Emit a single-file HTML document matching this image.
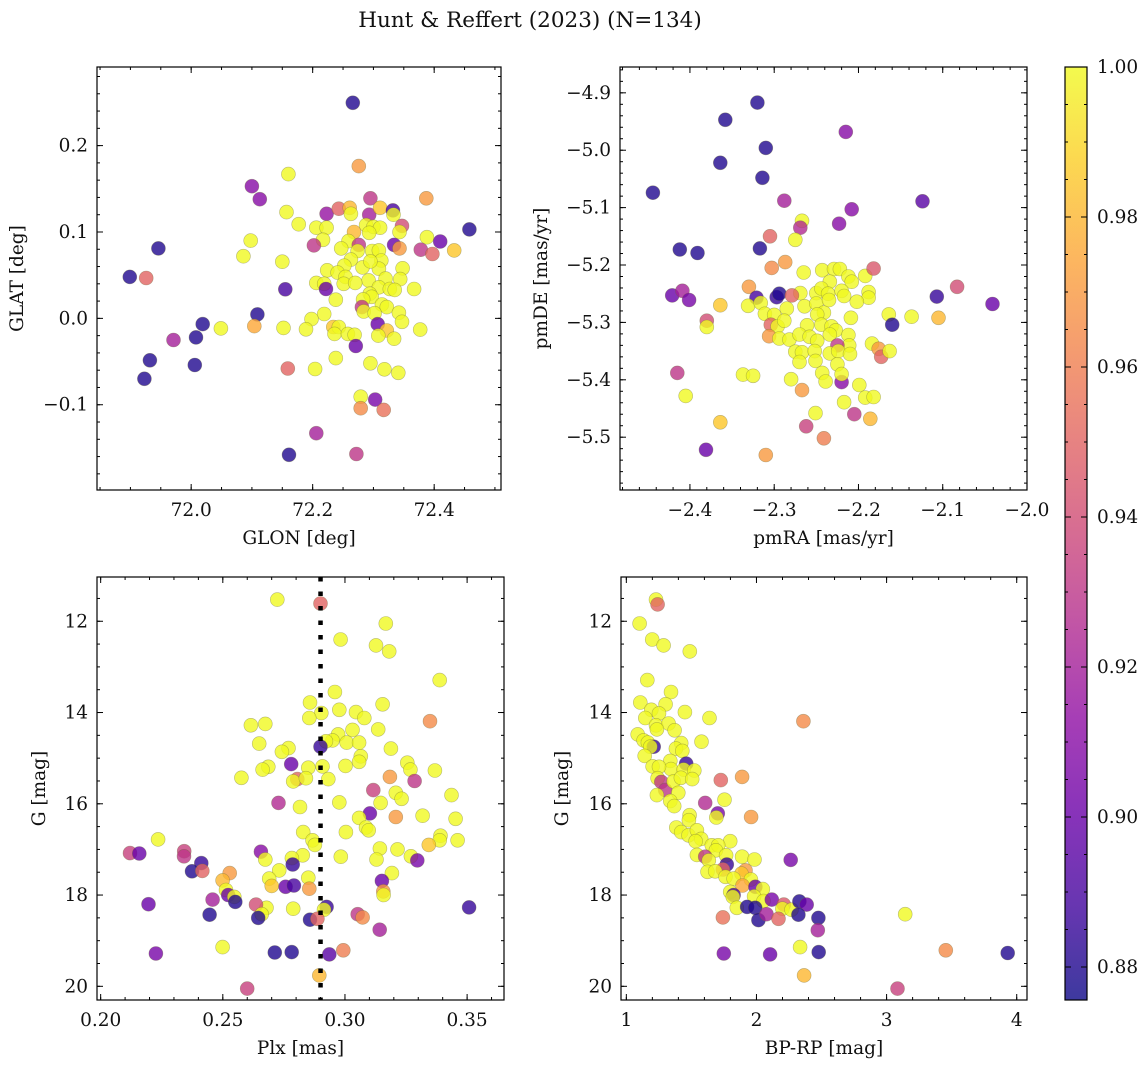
<!DOCTYPE html>
<html><head><meta charset="utf-8"><style>
body{margin:0;background:#fff;}
svg{display:block;font-family:"DejaVu Serif","Liberation Serif",serif;}
</style></head><body>
<svg id="fig" width="1148" height="1067" viewBox="0 0 1148 1067" xmlns="http://www.w3.org/2000/svg">
<rect width="1148" height="1067" fill="#fff"/>
<text x="530" y="27" font-size="21.5" text-anchor="middle" fill="#111">Hunt &amp; Reffert (2023) (N=134)</text>
</svg>
<script>
// ---- Panel 1: GLON / GLAT ----
const p1Glon=[72.266,72.276,72.160,72.100,72.113,72.295,72.387,72.157,72.223,72.243,72.261,72.263,72.293,72.311,72.332,72.333,72.177,72.206,72.223,72.347,72.458,72.288,72.300,72.311,72.268,72.293,72.343,72.388,72.410,72.098,72.217,72.202,72.259,72.276,72.334,72.343,71.946,72.378,72.397,72.433,72.247,72.274,72.298,72.309,72.086,72.150,72.263,72.282,72.313,72.252,72.224,72.241,72.309,72.348,72.295,72.254,72.292,72.320,72.344,71.899,71.926,72.206,72.219,72.222,72.251,72.270,72.155,72.309,72.327,72.335,72.367,72.294,72.297,72.238,72.283,72.314,72.322,72.281,72.284,72.302,72.342,72.219,72.109,72.198,72.347,72.019,72.307,72.049,72.104,72.152,72.189,72.234,72.243,72.236,72.258,72.269,72.322,72.308,72.377,72.334,72.271,72.008,71.971,71.932,72.006,71.923,72.238,72.159,72.204,72.295,72.318,72.341,72.279,72.303,72.279,72.317,72.206,72.161,72.272];
const p1Glat=[0.2496,0.1763,0.167,0.153,0.138,0.139,0.139,0.123,0.121,0.127,0.128,0.121,0.120,0.128,0.125,0.120,0.109,0.105,0.105,0.107,0.103,0.108,0.106,0.105,0.100,0.099,0.100,0.094,0.089,0.090,0.091,0.0845,0.0895,0.085,0.085,0.081,0.081,0.0795,0.0745,0.0787,0.081,0.078,0.078,0.0787,0.072,0.0656,0.068,0.059,0.067,0.061,0.0556,0.053,0.0575,0.058,0.066,0.048,0.044,0.046,0.0455,0.048,0.0467,0.041,0.040,0.034,0.040,0.041,0.0336,0.036,0.034,0.033,0.034,0.0285,0.025,0.0216,0.022,0.016,0.013,0.013,0.008,0.006,0.0066,0.005,0.0046,-0.0008,-0.004,-0.0066,-0.0066,-0.0116,-0.009,-0.011,-0.0127,-0.010,-0.010,-0.018,-0.018,-0.019,-0.014,-0.020,-0.013,-0.0235,-0.032,-0.022,-0.025,-0.0486,-0.054,-0.070,-0.046,-0.058,-0.0586,-0.052,-0.059,-0.063,-0.0907,-0.094,-0.104,-0.106,-0.133,-0.158,-0.157];
const p1Prob=[0.88,0.97,1,0.91,0.91,0.93,0.97,1,0.915,0.95,0.98,1,0.92,0.985,0.89,1,1,1,1,0.94,0.88,1,1,1,0.98,1,1,1,0.90,1,1,0.93,1,0.93,0.90,0.97,0.88,0.93,0.95,0.985,1,1,1,1,1,1,1,1,1,1,1,1,1,1,1,1,1,1,1,0.88,0.95,1,1,0.90,1,1,0.89,1,1,1,1,1,1,1,1,1,1,0.93,1,1,1,1,0.88,1,1,0.88,0.90,1,0.975,1,1,0.985,1,1,1,1,0.985,1,1,1,0.90,0.88,0.92,0.88,0.88,0.88,1,0.95,1,1,1,1,1,0.905,0.965,0.955,0.92,0.88,0.93];
// ---- Panel 2: pmRA / pmDE ----
const p2PmRA=[-2.320,-2.358,-2.215,-2.310,-2.364,-2.314,-2.444,-2.288,-2.124,-2.208,-2.267,-2.269,-2.223,-2.305,-2.275,-2.412,-2.391,-2.317,-2.287,-2.303,-2.265,-2.243,-2.229,-2.222,-2.212,-2.208,-2.192,-2.182,-2.234,-2.083,-2.330,-2.269,-2.250,-2.244,-2.236,-2.220,-2.217,-2.188,-2.188,-2.421,-2.409,-2.401,-2.321,-2.297,-2.294,-2.279,-2.107,-2.041,-2.364,-2.331,-2.316,-2.311,-2.300,-2.285,-2.264,-2.250,-2.241,-2.249,-2.235,-2.202,-2.209,-2.164,-2.137,-2.105,-2.380,-2.380,-2.304,-2.296,-2.288,-2.261,-2.244,-2.232,-2.227,-2.160,-2.306,-2.294,-2.282,-2.270,-2.258,-2.249,-2.234,-2.212,-2.211,-2.225,-2.184,-2.176,-2.173,-2.163,-2.275,-2.267,-2.252,-2.234,-2.224,-2.210,-2.270,-2.251,-2.225,-2.415,-2.337,-2.325,-2.243,-2.280,-2.239,-2.220,-2.220,-2.199,-2.267,-2.405,-2.192,-2.182,-2.217,-2.251,-2.205,-2.186,-2.364,-2.262,-2.241,-2.381,-2.310];
const p2PmDE=[-4.917,-4.947,-4.968,-4.996,-5.022,-5.048,-5.074,-5.088,-5.089,-5.103,-5.123,-5.135,-5.128,-5.150,-5.156,-5.173,-5.179,-5.171,-5.195,-5.205,-5.213,-5.209,-5.207,-5.207,-5.220,-5.229,-5.219,-5.206,-5.229,-5.238,-5.238,-5.249,-5.249,-5.241,-5.250,-5.245,-5.254,-5.247,-5.257,-5.253,-5.245,-5.261,-5.257,-5.256,-5.250,-5.253,-5.255,-5.268,-5.270,-5.271,-5.266,-5.285,-5.287,-5.276,-5.272,-5.267,-5.283,-5.286,-5.261,-5.264,-5.292,-5.286,-5.290,-5.292,-5.297,-5.308,-5.304,-5.307,-5.297,-5.305,-5.304,-5.307,-5.314,-5.304,-5.324,-5.328,-5.330,-5.321,-5.325,-5.332,-5.321,-5.322,-5.340,-5.340,-5.337,-5.346,-5.360,-5.350,-5.351,-5.352,-5.350,-5.354,-5.350,-5.355,-5.369,-5.367,-5.373,-5.388,-5.391,-5.393,-5.388,-5.399,-5.403,-5.404,-5.390,-5.409,-5.418,-5.428,-5.431,-5.430,-5.439,-5.458,-5.460,-5.468,-5.474,-5.481,-5.502,-5.522,-5.531];
const p2Prob=[0.88,0.88,0.91,0.88,0.88,0.88,0.88,0.92,0.895,0.91,1,0.925,0.91,0.95,1,0.88,0.88,0.88,0.97,0.965,1,1,1,1,1,1,1,0.945,1,0.94,0.97,1,1,1,1,1,1,1,1,0.90,0.92,0.905,0.89,0.885,0.88,0.95,0.885,0.90,0.985,1,1,1,1,1,1,1,1,1,1,1,1,1,1,0.98,0.94,1,0.95,1,1,1,1,1,1,0.88,0.97,1,1,1,1,1,1,1,1,0.93,1,0.97,0.95,1,1,1,1,1,1,1,1,1,1,0.93,1,1,1,1,1,0.91,1,1,0.97,1,1,1,1,1,0.93,0.98,0.985,0.935,0.96,0.90,0.97];
// ---- Panel 3: Plx / G ----
const p3Plx=[0.2723,0.2900,0.3167,0.2982,0.3127,0.3181,0.3388,0.2959,0.2857,0.3154,0.2903,0.2977,0.3045,0.3079,0.2854,0.3348,0.2615,0.2674,0.3136,0.3031,0.2972,0.2949,0.2922,0.3007,0.3058,0.2649,0.2900,0.2769,0.2742,0.3188,0.3065,0.3058,0.2780,0.3255,0.3268,0.3368,0.3002,0.2908,0.2850,0.2686,0.2663,0.2576,0.2805,0.2788,0.2840,0.2932,0.3184,0.3285,0.3116,0.3208,0.3232,0.2728,0.2977,0.3146,0.3436,0.2816,0.3102,0.3208,0.3318,0.3058,0.3453,0.3086,0.3097,0.2829,0.3004,0.2235,0.3391,0.3388,0.3461,0.2867,0.2877,0.3343,0.3143,0.3215,0.2120,0.2158,0.2342,0.2341,0.2656,0.2674,0.2827,0.2783,0.2983,0.3129,0.3270,0.3296,0.2412,0.2786,0.2374,0.2416,0.2731,0.2528,0.3192,0.2499,0.2690,0.2700,0.2850,0.2854,0.2757,0.2791,0.3151,0.3157,0.3158,0.2513,0.2522,0.2547,0.2551,0.2458,0.2196,0.2788,0.2679,0.2636,0.2659,0.2645,0.2446,0.2925,0.2914,0.3508,0.2857,0.2887,0.3052,0.3072,0.3142,0.2499,0.2226,0.2713,0.2782,0.2936,0.2993,0.2895,0.2600];
const p3G=[11.525,11.61,12.05,12.40,12.53,12.66,13.29,13.55,13.78,13.82,14.01,13.94,13.99,14.12,14.12,14.19,14.28,14.25,14.37,14.38,14.48,14.61,14.63,14.66,14.66,14.68,14.75,14.78,14.86,14.79,14.96,15.08,15.13,15.10,15.25,15.27,15.17,15.18,15.21,15.19,15.25,15.43,15.46,15.51,15.44,15.46,15.41,15.50,15.70,15.76,15.89,15.98,15.97,15.98,15.81,16.07,16.21,16.29,16.26,16.31,16.33,16.52,16.58,16.62,16.62,16.78,16.70,16.80,16.80,16.80,16.90,16.90,16.98,17.00,17.08,17.09,17.04,17.15,17.05,17.22,17.13,17.19,17.16,17.22,17.15,17.24,17.30,17.33,17.48,17.47,17.46,17.52,17.52,17.68,17.64,17.80,17.62,17.86,17.82,17.79,17.69,17.92,18.00,17.89,18.00,18.04,18.15,18.10,18.20,18.30,18.28,18.21,18.42,18.50,18.43,18.26,18.32,18.27,18.54,18.52,18.42,18.49,18.76,19.14,19.28,19.26,19.25,19.30,19.21,19.76,20.05];
const p3Prob=[1,0.95,1,1,1,1,1,1,1,1,1,1,1,1,1,0.965,1,1,1,1,1,1,1,1,1,1,0.885,1,1,1,1,1,0.90,1,1,1,1,1,1,1,1,1,0.95,1,1,1,0.97,0.93,0.935,1,1,0.925,1,1,1,1,0.90,0.97,1,1,1,1,1,1,1,1,1,1,1,1,1,0.985,1,1,0.935,0.90,0.935,0.93,0.91,1,1,1,1,1,1,0.905,0.885,0.885,0.88,0.95,1,0.97,1,0.98,1,0.985,1,0.97,0.90,0.89,0.90,0.97,1,1,0.90,1,0.88,0.92,0.90,1,1,0.94,1,0.88,0.88,0.885,1,0.885,0.88,0.95,0.93,0.965,0.92,1,0.905,0.88,0.88,0.895,0.96,0.98,0.935];
// ---- Panel 4: BP-RP / G ----
const p4Color=[1.228,1.240,1.102,1.199,1.286,1.488,1.161,1.343,1.107,1.302,1.192,1.251,1.450,1.639,2.361,1.146,1.228,1.325,1.371,1.235,1.087,1.133,1.166,1.210,1.184,1.141,1.422,1.381,1.430,1.578,1.460,1.338,1.343,1.202,1.251,1.440,1.522,1.240,1.269,1.299,1.235,1.363,1.419,1.506,1.399,1.338,1.368,1.726,1.890,1.754,1.606,1.703,1.691,1.959,1.486,1.481,1.384,1.422,1.478,1.542,1.575,1.532,1.798,1.657,1.706,1.688,1.542,1.606,1.634,1.767,1.890,1.985,2.263,1.772,1.742,1.624,1.683,1.916,1.885,1.762,1.824,1.957,1.893,1.992,2.049,1.798,1.824,1.818,1.982,2.054,2.118,1.849,1.928,1.990,2.210,2.199,2.269,2.330,2.386,2.322,2.015,2.077,2.169,2.476,1.742,2.471,3.143,2.335,1.749,2.105,2.478,3.455,3.931,2.366,3.084];
const p4G=[11.525,11.63,12.05,12.40,12.53,12.66,13.29,13.55,13.78,13.82,13.94,14.02,13.99,14.12,14.19,14.12,14.28,14.24,14.39,14.37,14.48,14.61,14.66,14.75,14.75,14.95,14.67,14.79,14.84,14.64,15.12,15.06,15.24,15.18,15.19,15.25,15.27,15.44,15.52,15.70,15.81,15.51,15.43,15.46,15.76,15.94,16.05,15.48,15.41,15.91,15.98,16.21,16.30,16.29,16.25,16.36,16.52,16.62,16.69,16.58,16.77,16.82,16.82,16.91,16.91,17.02,17.12,17.16,17.24,17.13,17.16,17.22,17.23,17.33,17.44,17.49,17.48,17.46,17.53,17.60,17.64,17.66,17.79,17.82,17.87,17.93,18.00,18.04,18.03,18.13,18.10,18.28,18.26,18.28,18.21,18.30,18.32,18.14,18.21,18.43,18.55,18.42,18.52,18.50,18.49,18.77,18.42,19.14,19.28,19.30,19.25,19.21,19.27,19.76,20.05];
const p4Prob=[1,0.95,1,1,1,1,1,1,1,1,1,1,1,1,0.965,1,1,1,1,1,1,1,1,0.885,1,1,1,1,1,1,0.885,1,1,1,1,1,1,1,0.93,0.93,1,1,1,1,1,1,1,0.95,0.97,1,0.925,0.905,1,0.97,1,1,1,1,1,1,1,1,1,1,1,1,1,0.93,1,1,1,1,0.905,0.885,0.95,1,1,0.97,0.985,1,1,1,0.975,0.90,1,1,0.89,1,1,1,0.905,1,0.88,0.88,0.945,1,1,0.88,0.90,0.88,0.88,0.92,0.95,0.88,0.955,0.92,1,1,0.905,0.90,0.88,0.965,0.88,0.98,0.935];
// ---- tick arrays ----
const p1XTicks=[72.0,72.2,72.4];
const p1YTicks=[-0.1,0.0,0.1,0.2];
const p2XTicks=[-2.4,-2.3,-2.2,-2.1,-2.0];
const p2YTicks=[-5.5,-5.4,-5.3,-5.2,-5.1,-5.0,-4.9];
const p3XTicks=[0.20,0.25,0.30,0.35];
const gTicks=[12,14,16,18,20];
const p4XTicks=[1,2,3,4];
const cbTicks=[0.88,0.90,0.92,0.94,0.96,0.98,1.00];
const plxLine=[0.29];
const vmin=0.8756, vmax=1.0;

const NS="http://www.w3.org/2000/svg";
const svg=document.getElementById('fig');
const FS=18.5;
function el(tag,attrs,parent){const e=document.createElementNS(NS,tag);for(const k in attrs)e.setAttribute(k,attrs[k]);(parent||svg).appendChild(e);return e;}
const stops=[[13,8,135],[65,4,157],[106,0,168],[143,13,164],[177,42,144],[204,71,120],[225,100,98],[242,132,75],[252,166,54],[252,206,37],[240,249,33]];
function plasma(t){t=Math.max(0,Math.min(1,t));const f=t*10,i=Math.min(9,Math.floor(f)),r=f-i;const a=stops[i],b=stops[i+1];return `rgb(${Math.round(a[0]+(b[0]-a[0])*r)},${Math.round(a[1]+(b[1]-a[1])*r)},${Math.round(a[2]+(b[2]-a[2])*r)})`;}
function fmtMinus(s){return s.replace('-','\u2212');}

function panel(cfg){
  const g=el('g',{});
  
  
  const sx=v=>cfg.L+(v-cfg.x0)/(cfg.x1-cfg.x0)*(cfg.R-cfg.L);
  const sy=cfg.invY?(v=>cfg.T+(v-cfg.y0)/(cfg.y1-cfg.y0)*(cfg.B-cfg.T)):(v=>cfg.B-(v-cfg.y0)/(cfg.y1-cfg.y0)*(cfg.B-cfg.T));
  const clipId='clip'+cfg.name;
  const cp=el('clipPath',{id:clipId},g);el('rect',{x:cfg.L,y:cfg.T,width:cfg.R-cfg.L,height:cfg.B-cfg.T},cp);
  const pts=el('g',{'clip-path':`url(#${clipId})`},g);
  
  
  for(let i=0;i<cfg.xs.length;i++){
    const c=el('circle',{cx:sx(cfg.xs[i]).toFixed(1),cy:sy(cfg.ys[i]).toFixed(1),r:7,fill:plasma((cfg.pr[i]-vmin)/(vmax-vmin)),'fill-opacity':0.8,stroke:'#6b6b3a','stroke-opacity':0.45,'stroke-width':0.6},pts);
    
    
  }
  if(cfg.vline){for(const v of cfg.vline){const l=el('line',{x1:sx(v),x2:sx(v),y1:cfg.T,y2:cfg.B,stroke:'#000','stroke-width':4.5,'stroke-dasharray':'4.5 10'},pts);
    
    }}
  const tk=el('g',{stroke:'#000','stroke-width':1},g);
  const lo=Math.min(cfg.x0,cfg.x1),hi=Math.max(cfg.x0,cfg.x1);
  for(let k=Math.ceil(lo/cfg.xm-1e-6);k*cfg.xm<=hi+1e-9;k++){const x=sx(k*cfg.xm);el('line',{x1:x,x2:x,y1:cfg.B,y2:cfg.B-3},tk);el('line',{x1:x,x2:x,y1:cfg.T,y2:cfg.T+3},tk);}
  const ylo=Math.min(cfg.y0,cfg.y1),yhi=Math.max(cfg.y0,cfg.y1);
  for(let k=Math.ceil(ylo/cfg.ym-1e-6);k*cfg.ym<=yhi+1e-9;k++){const y=sy(k*cfg.ym);el('line',{x1:cfg.L,x2:cfg.L+3,y1:y,y2:y},tk);el('line',{x1:cfg.R,x2:cfg.R-3,y1:y,y2:y},tk);}
  for(const v of cfg.xt){const x=sx(v);el('line',{x1:x,x2:x,y1:cfg.B,y2:cfg.B-6},tk);el('line',{x1:x,x2:x,y1:cfg.T,y2:cfg.T+6},tk);
    const t=el('text',{x:x,y:cfg.B+26,'font-size':FS,'text-anchor':'middle',fill:'#111'},g);t.textContent=fmtMinus(v.toFixed(cfg.xd));
    
    }
  for(const v of cfg.yt){const y=sy(v);el('line',{x1:cfg.L,x2:cfg.L+6,y1:y,y2:y},tk);el('line',{x1:cfg.R,x2:cfg.R-6,y1:y,y2:y},tk);
    const t=el('text',{x:cfg.L-9,y:y+6,'font-size':FS,'text-anchor':'end',fill:'#111'},g);t.textContent=fmtMinus(v.toFixed(cfg.yd));
    
    }
  const fr=el('rect',{x:cfg.L,y:cfg.T,width:cfg.R-cfg.L,height:cfg.B-cfg.T,fill:'none',stroke:'#000','stroke-width':1.2},g);
  
  
  const xl=el('text',{x:(cfg.L+cfg.R)/2,y:cfg.B+54,'font-size':FS,'text-anchor':'middle',fill:'#111'},g);xl.textContent=cfg.xlabel;
  
  
  const yx=cfg.ylx,yy=(cfg.T+cfg.B)/2;
  const yl=el('text',{x:yx,y:yy,'font-size':FS,'text-anchor':'middle',fill:'#111',transform:`rotate(-90 ${yx} ${yy})`},g);yl.textContent=cfg.ylabel;
  
  
}
panel({name:'panel-sky-position',L:97,R:501,T:67,B:490,x0:71.845,x1:72.51,y0:-0.1987,y1:0.291,xs:p1Glon,ys:p1Glat,pr:p1Prob,xt:p1XTicks,yt:p1YTicks,xd:1,yd:1,xm:0.05,ym:0.02,xlabel:'GLON [deg]',ylabel:'GLAT [deg]',ylx:23});
panel({name:'panel-proper-motion',L:620,R:1027,T:67,B:490,x0:-2.483,x1:-2.0,y0:-5.592,y1:-4.855,xs:p2PmRA,ys:p2PmDE,pr:p2Prob,xt:p2XTicks,yt:p2YTicks,xd:1,yd:1,xm:0.02,ym:0.02,xlabel:'pmRA [mas/yr]',ylabel:'pmDE [mas/yr]',ylx:547});
panel({name:'panel-parallax-magnitude',L:97,R:504,T:577,B:1000,x0:0.1985,x1:0.3651,y0:11.03,y1:20.30,invY:true,xs:p3Plx,ys:p3G,pr:p3Prob,xt:p3XTicks,yt:gTicks,xd:2,yd:0,xm:0.01,ym:0.5,xlabel:'Plx [mas]',ylabel:'G [mag]',ylx:45,vline:plxLine});
panel({name:'panel-color-magnitude',L:621,R:1027,T:577,B:1000,x0:0.959,x1:4.079,y0:11.03,y1:20.30,invY:true,xs:p4Color,ys:p4G,pr:p4Prob,xt:p4XTicks,yt:gTicks,xd:0,yd:0,xm:0.2,ym:0.5,xlabel:'BP-RP [mag]',ylabel:'G [mag]',ylx:568});

// colorbar
const cb=el('g',{});


const CL=1065,CR=1087,CT=67,CB=1000;
const defs=el('defs',{},svg);
const lg=el('linearGradient',{id:'plasmaGrad',x1:0,y1:1,x2:0,y2:0},defs);
for(let i=0;i<=20;i++){el('stop',{offset:(i/20),'stop-color':plasma(i/20)},lg);}
el('rect',{x:CL,y:CT,width:CR-CL,height:CB-CT,fill:'url(#plasmaGrad)','fill-opacity':0.8},cb);
const cy=v=>CB-(v-vmin)/(vmax-vmin)*(CB-CT);
for(let v=0.88;v<=1.0001;v+=0.005){el('line',{x1:CR,x2:CR-3,y1:cy(v),y2:cy(v),stroke:'#000','stroke-width':1},cb);el('line',{x1:CL,x2:CL+3,y1:cy(v),y2:cy(v),stroke:'#000','stroke-width':1},cb);}
for(const v of cbTicks){const y=cy(v);el('line',{x1:CR,x2:CR-6,y1:y,y2:y,stroke:'#000'},cb);el('line',{x1:CL,x2:CL+6,y1:y,y2:y,stroke:'#000'},cb);
  const t=el('text',{x:CR+10,y:y+6,'font-size':FS,fill:'#111'},cb);t.textContent=v.toFixed(2);
  
  }
el('rect',{x:CL,y:CT,width:CR-CL,height:CB-CT,fill:'none',stroke:'#000','stroke-width':1.2},cb);
</script>
</body></html>
